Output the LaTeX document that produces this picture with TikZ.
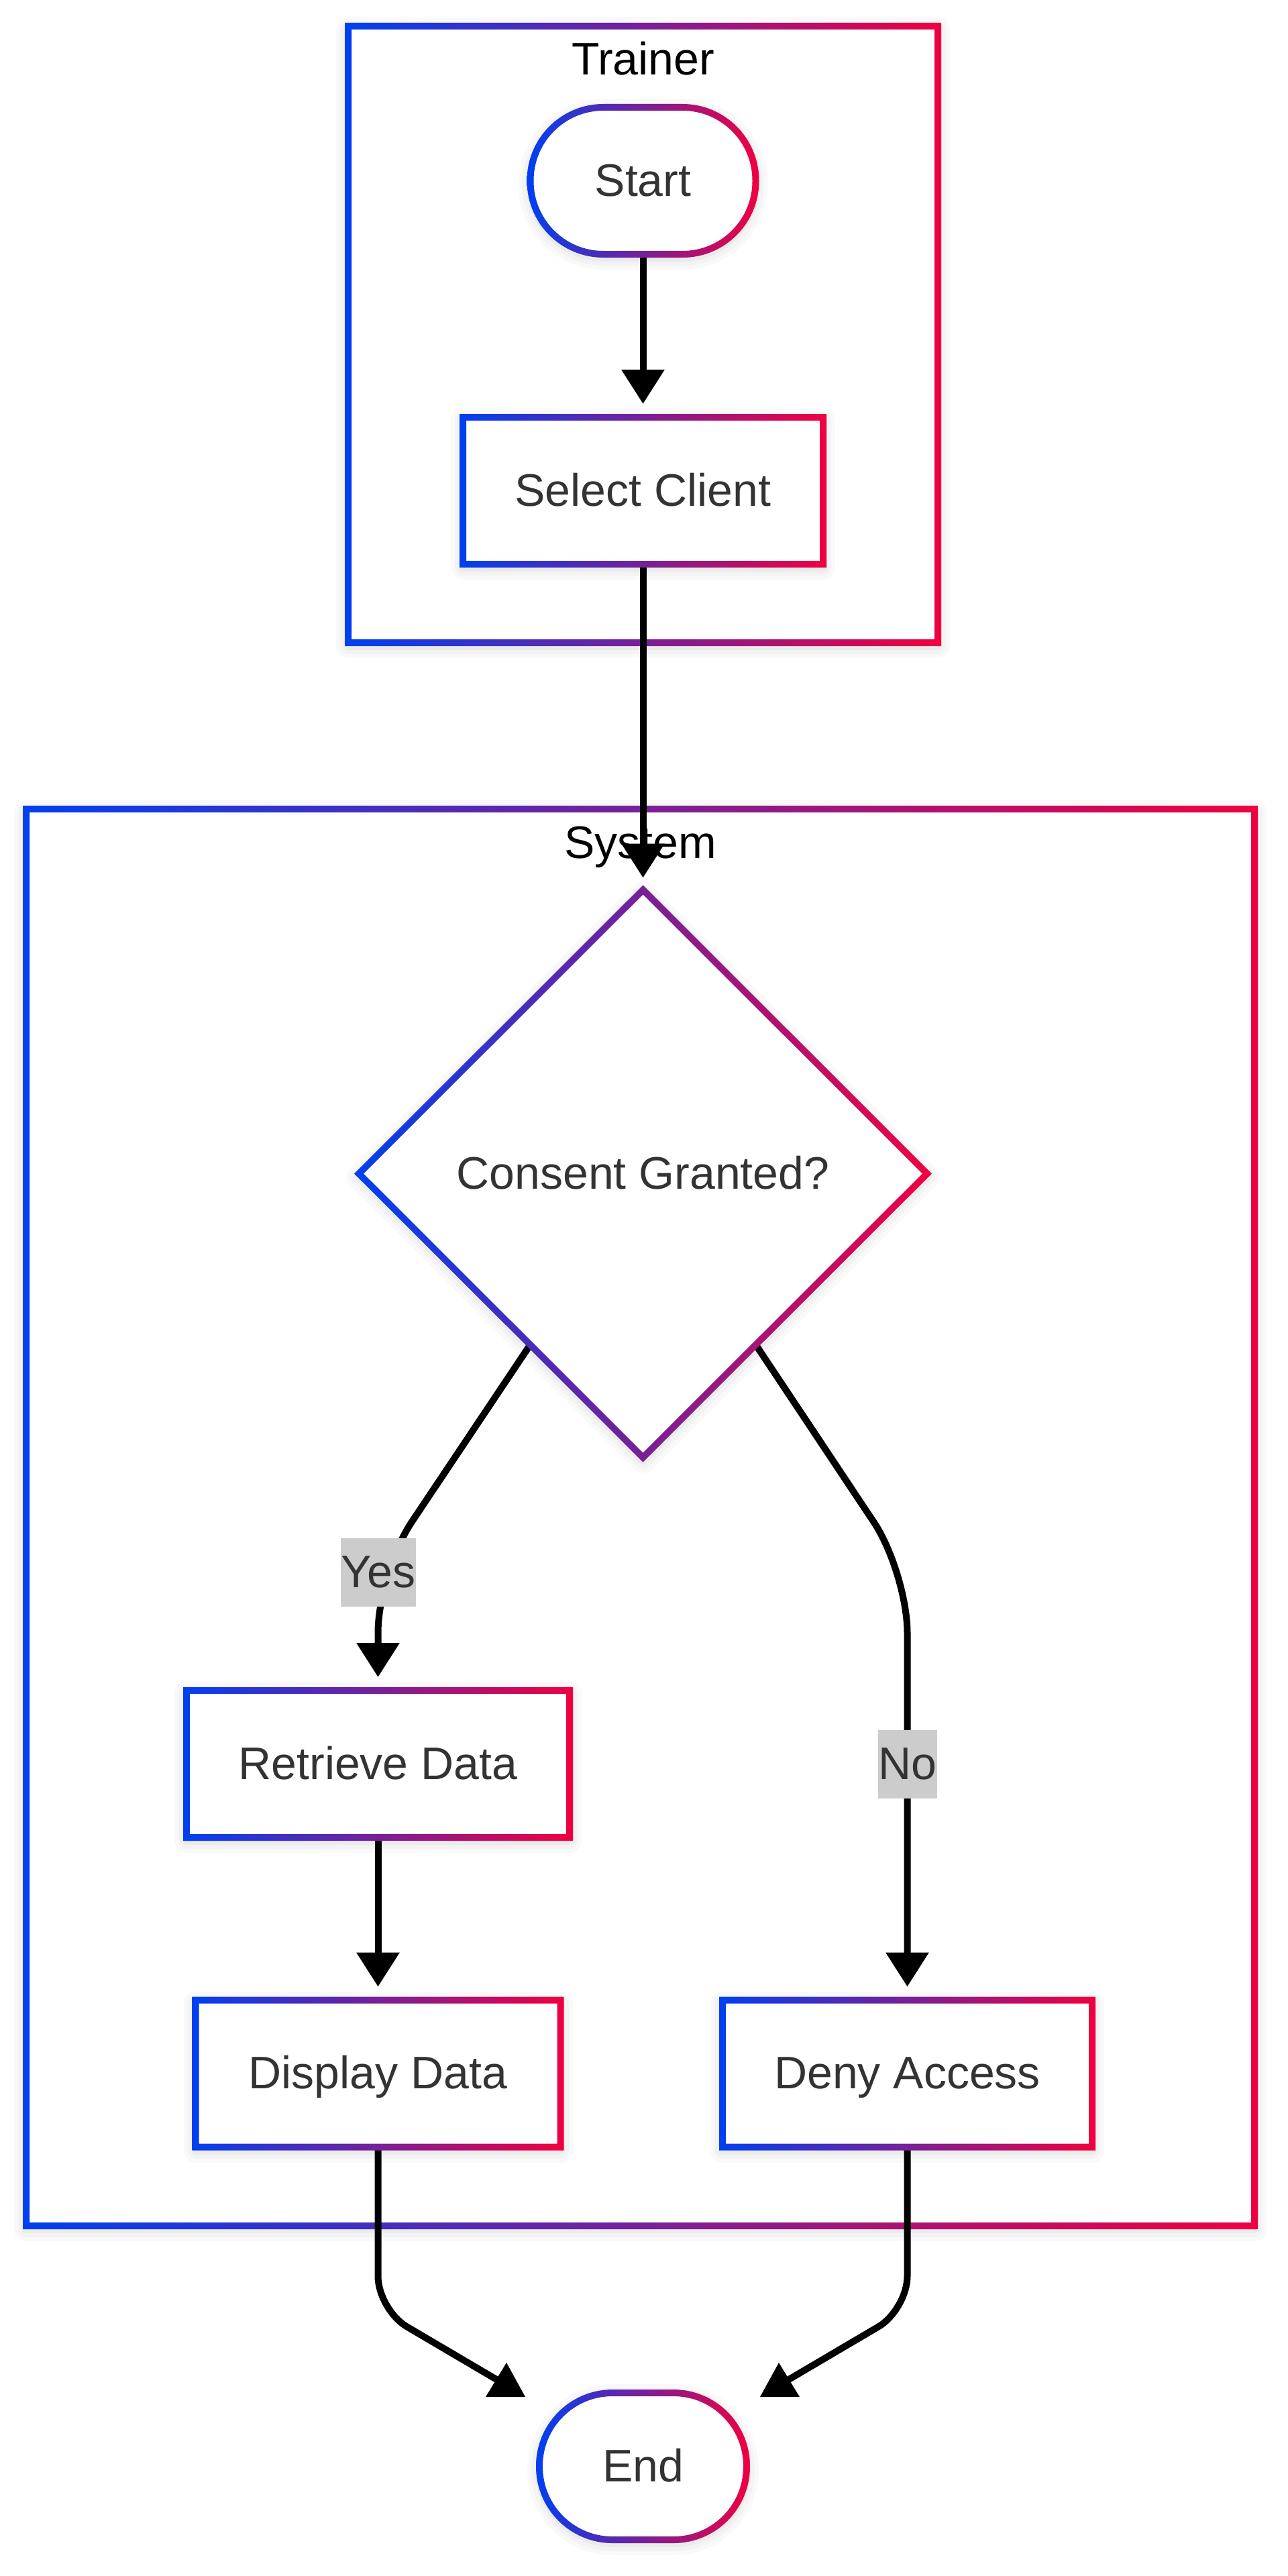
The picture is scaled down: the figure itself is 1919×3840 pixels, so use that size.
\documentclass[tikz,border=0pt]{standalone}
\usepackage{fontspec}
\setmainfont{Liberation Sans}
\usetikzlibrary{arrows.meta,shapes.geometric,calc}
\pgfdeclarelayer{bg}
\pgfdeclarelayer{edges}
\pgfdeclarelayer{fg}
\pgfsetlayers{bg,edges,main,fg}
\definecolor{gL}{RGB}{0,64,240}
\definecolor{gR}{RGB}{240,0,64}
\definecolor{txt}{HTML}{333333}
\definecolor{lbl}{HTML}{CCCCCC}
\newcommand\rectring[1]{\shade[left color=gL,right color=gR,even odd rule]
  ([shift={(-5pt,-5pt)}]#1.south west) rectangle ([shift={(5pt,5pt)}]#1.north east)
  ([shift={(5pt,5pt)}]#1.south west) rectangle ([shift={(-5pt,-5pt)}]#1.north east);}
\newcommand\stadring[1]{\shade[left color=gL,right color=gR,even odd rule,rounded corners=114pt]
  ([shift={(-5pt,-5pt)}]#1.south west) rectangle ([shift={(5pt,5pt)}]#1.north east)
  [rounded corners=104pt]
  ([shift={(5pt,5pt)}]#1.south west) rectangle ([shift={(-5pt,-5pt)}]#1.north east);}
\newcommand\diaring[1]{\shade[left color=gL,right color=gR,even odd rule]
  ([yshift=7pt]#1.north) -- ([xshift=7pt]#1.east) -- ([yshift=-7pt]#1.south) -- ([xshift=-7pt]#1.west) -- cycle
  ([yshift=-7pt]#1.north) -- ([xshift=-7pt]#1.east) -- ([yshift=7pt]#1.south) -- ([xshift=7pt]#1.west) -- cycle;}
\tikzset{
  shadowed/.style={
    preaction={draw=black,draw opacity=0.025,line width=36pt,line join=round,transform canvas={yshift=-5pt}},
    preaction={draw=black,draw opacity=0.025,line width=24pt,line join=round,transform canvas={yshift=-5pt}},
    preaction={draw=black,draw opacity=0.03,line width=12pt,line join=round,transform canvas={yshift=-5pt}}},
  bigfont/.style={font=\fontsize{68}{80}\selectfont},
  basenode/.style={bigfont,inner sep=0pt,outer sep=0pt,fill=white,text=txt,
    text height=45pt,text depth=0pt,shadowed},
  rectbox/.style={basenode,rectangle,minimum height=219pt},
  stadium/.style={basenode,rectangle,rounded corners=109pt,minimum height=219pt},
  decision/.style={basenode,diamond,minimum width=847pt,minimum height=846pt},
  cluster/.style={rectangle,fill=white,inner sep=0pt,outer sep=0pt,shadowed},
  ctitle/.style={bigfont,anchor=base,inner sep=0pt,text=black},
  edge/.style={draw=black,line width=10pt,-{Triangle[length=51pt,width=62pt]}},
  plainedge/.style={draw=black,line width=10pt},
  elabel/.style={bigfont,fill=lbl,text=txt,inner sep=0pt,minimum height=102pt,
    text height=45pt,text depth=0pt}
}
\begin{document}
\begin{tikzpicture}[x=1pt,y=-1pt]
\useasboundingbox (0,0) rectangle (1919,3840);

% ---------- nodes ----------
\node[stadium,minimum width=336pt] (start) at (958.5,269.5) {Start};
\stadring{start}
\node[rectbox,minimum width=537pt] (sel) at (958.5,731.5) {Select Client};
\rectring{sel}
\node[decision] (dia) at (958.5,1749.5) {Consent Granted?};
\diaring{dia}
\node[rectbox,minimum width=571pt] (ret) at (563.5,2629.5) {Retrieve Data};
\rectring{ret}
\node[rectbox,minimum width=544pt] (dis) at (563.5,3091) {Display Data};
\rectring{dis}
\node[rectbox,minimum width=551pt] (den) at (1352.5,3091) {Deny Access};
\rectring{den}
\node[stadium,minimum width=309pt] (fin) at (958.5,3676.5) {End};
\stadring{fin}

% ---------- clusters ----------
\begin{pgfonlayer}{bg}
\fill[white] (0,0) rectangle (1919,3840);
\node[cluster,minimum width=879pt,minimum height=919pt] (trainer) at (958.5,498.5) {};
\rectring{trainer}
\node[ctitle] (trainerT) at (958.5,112) {Trainer};
\node[cluster,minimum width=1831pt,minimum height=2112pt] (system) at (954.5,2262) {};
\rectring{system}
\node[ctitle] (systemT) at (954.5,1279) {System};
\end{pgfonlayer}

% ---------- edges ----------
\begin{pgfonlayer}{edges}
\coordinate (yc) at (0,2344);
\coordinate (nc) at (0,2630);
\coordinate (ec) at (0,3443);
\coordinate (yesS) at ($(dia.west)!0.603!(dia.south)$);
\coordinate (noS) at ($(dia.east)!0.603!(dia.south)$);
\coordinate (endL) at (752,3554);
\coordinate (endR) at (1164,3554);
\coordinate (tipL) at (755,3522);
\coordinate (tipR) at (1161,3522);

\draw[edge,shorten >=20pt] (start.south) -- (sel.north);
\draw[edge,shorten >=18pt] (sel.south) -- (dia.north);
\draw[edge,rounded corners=90pt,shorten >=20pt] (yesS) -- (ret.north |- yc) -- (ret.north);
\draw[edge,rounded corners=90pt,shorten >=20pt] (noS) -- (den.north |- yc) -- (den.north);
\draw[edge,shorten >=20pt] (ret.south) -- (dis.north);
\draw[plainedge,rounded corners=50pt] (dis.south) -- (dis.south |- ec) -- (endL);
\draw[plainedge,rounded corners=50pt] (den.south) -- (den.south |- ec) -- (endR);
\fill[black] (tipL) -- ++(-31,51) -- ++(59,0) -- cycle;
\fill[black] (tipR) -- ++(-28,51) -- ++(59,0) -- cycle;
\end{pgfonlayer}

% ---------- edge labels ----------
\begin{pgfonlayer}{fg}
\node[elabel,minimum width=112pt] (yesL) at (ret.north |- yc) {Yes};
\node[elabel,minimum width=88pt] (noL) at (den.north |- nc) {No};
\end{pgfonlayer}
\end{tikzpicture}
\end{document}
